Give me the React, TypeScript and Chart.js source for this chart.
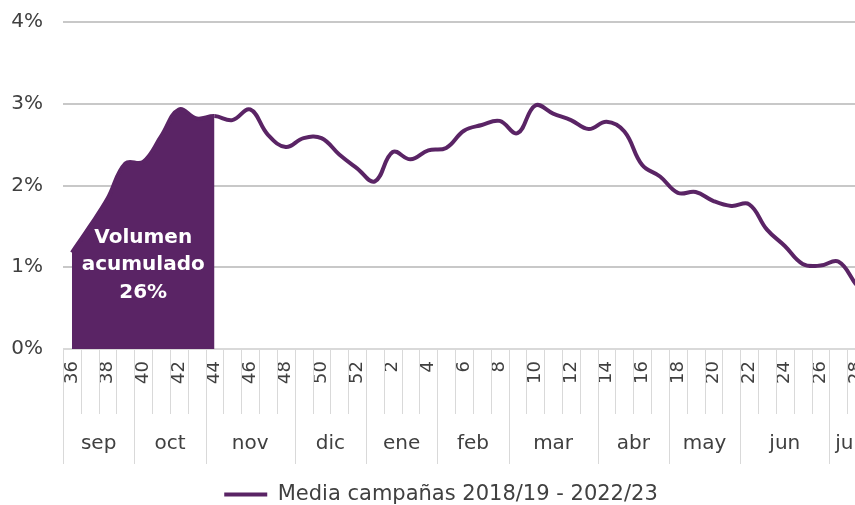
import { useEffect, useRef } from "react";
import { Chart, registerables } from "chart.js";

Chart.register(...registerables);

// ---- data ----
const weeks = [
  "36", "37", "38", "39", "40", "41", "42", "43", "44", "45", "46", "47", "48", "49", "50", "51", "52",
  "1", "2", "3", "4", "5", "6", "7", "8", "9", "10", "11", "12", "13", "14", "15", "16", "17", "18", "19",
  "20", "21", "22", "23", "24", "25", "26", "27", "28",
];
const values = [
  1.18, 1.5, 1.84, 2.27, 2.29, 2.6, 2.93, 2.82, 2.85, 2.8, 2.93, 2.62, 2.47, 2.58, 2.58, 2.38, 2.21,
  2.05, 2.41, 2.32, 2.43, 2.46, 2.67, 2.74, 2.79, 2.64, 2.98, 2.88, 2.8, 2.69, 2.78, 2.66, 2.25, 2.11,
  1.91, 1.92, 1.81, 1.75, 1.77, 1.46, 1.26, 1.04, 1.02, 1.07, 0.79,
];
const months = ["sep", "oct", "nov", "dic", "ene", "feb", "mar", "abr", "may", "jun", "jul"];
const monthWeekCounts = [4, 4, 5, 4, 4, 4, 5, 4, 4, 5, 2];
const yTickValues = [0, 1, 2, 3, 4];
const seriesLabel = "Media campañas 2018/19 - 2022/23";
const accumulatedLastWeek = "44";
const annotationLines = ["Volumen", "acumulado", "26%"];

// ---- styles ----
const PURPLE = "#5a2465";
const FONT = "'DejaVu Sans', sans-serif";
const TEXT = "#404040";

export default function App() {
  const ref = useRef<HTMLCanvasElement | null>(null);

  useEffect(() => {
    const canvas = ref.current;
    if (!canvas) return;
    const lastFillIndex = weeks.indexOf(accumulatedLastWeek);

    const axisPlugin = {
      id: "twoLevelAxis",
      afterDraw(chart: any) {
        const { ctx, chartArea, scales } = chart;
        const x = scales.x;
        const step = x.getPixelForValue(1) - x.getPixelForValue(0);
        const b0 = x.getPixelForValue(0) - step / 2;
        const bottom = chartArea.bottom;
        ctx.save();
        ctx.strokeStyle = "#d9d9d9";
        ctx.lineWidth = 1;
        for (let i = 0; i <= weeks.length; i++) {
          const px = Math.round(b0 + i * step) + 0.5;
          ctx.beginPath();
          ctx.moveTo(px, bottom);
          ctx.lineTo(px, bottom + 65);
          ctx.stroke();
        }
        let acc = 0;
        const bounds = [0];
        monthWeekCounts.forEach((c) => {
          acc += c;
          bounds.push(acc);
        });
        bounds.forEach((bi) => {
          const px = Math.round(b0 + bi * step) + 0.5;
          ctx.beginPath();
          ctx.moveTo(px, bottom);
          ctx.lineTo(px, bottom + 115);
          ctx.stroke();
        });
        ctx.fillStyle = TEXT;
        ctx.font = `20px ${FONT}`;
        ctx.textAlign = "center";
        ctx.textBaseline = "middle";
        months.forEach((m, i) => {
          const cx = b0 + ((bounds[i] + bounds[i + 1]) / 2) * step;
          ctx.fillText(m, cx, bottom + 95);
        });
        ctx.restore();
      },
    };

    const annotationPlugin = {
      id: "volumeNote",
      afterDatasetsDraw(chart: any) {
        const { ctx, scales } = chart;
        const x = scales.x;
        const y = scales.y;
        const cx = (x.getPixelForValue(0) + x.getPixelForValue(lastFillIndex)) / 2;
        const cy = y.getPixelForValue(1) - 2;
        ctx.save();
        ctx.fillStyle = "#ffffff";
        ctx.font = `bold 20px ${FONT}`;
        ctx.textAlign = "center";
        ctx.textBaseline = "middle";
        annotationLines.forEach((t, i) => ctx.fillText(t, cx, cy + (i - 1) * 27.5));
        ctx.restore();
      },
    };

    const chart = new Chart(canvas, {
      type: "line",
      data: {
        labels: weeks,
        datasets: [
          {
            label: seriesLabel,
            data: values,
            borderColor: PURPLE,
            backgroundColor: PURPLE,
            borderWidth: 4,
            pointRadius: 0,
            pointHoverRadius: 0,
            tension: 0.4,
            fill: "origin",
            segment: {
              backgroundColor: (c: any) => (c.p1DataIndex <= lastFillIndex ? PURPLE : "rgba(0,0,0,0)"),
            },
          } as any,
        ],
      },
      options: {
        responsive: false,
        animation: false,
        layout: { padding: { top: 22, right: 0, left: 0, bottom: 0 } },
        scales: {
          x: {
            offset: true,
            grid: { display: false, drawTicks: false },
            border: { display: false },
            ticks: {
              autoSkip: false,
              minRotation: 90,
              maxRotation: 90,
              padding: 12,
              color: TEXT,
              font: { family: FONT, size: 18 },
              callback: (_v: any, i: number) => (Number(weeks[i]) % 2 === 0 ? weeks[i] : ""),
            },
            afterFit: (s: any) => {
              s.height = 125;
              s.paddingLeft = 0;
              s.paddingRight = 17;
            },
          },
          y: {
            min: yTickValues[0],
            max: yTickValues[yTickValues.length - 1],
            ticks: {
              stepSize: 1,
              padding: 20,
              color: TEXT,
              font: { family: FONT, size: 20 },
              callback: (v: any) => `${v}%`,
            },
            grid: {
              color: (c: any) => (c.tick && c.tick.value === 0 ? "#d9d9d9" : "#c8c8c8"),
              lineWidth: 2,
              drawTicks: false,
            },
            border: { display: false },
            afterFit: (s: any) => {
              s.width = 63;
              s.paddingTop = 0;
              s.paddingBottom = 0;
            },
          },
        },
        plugins: {
          legend: {
            position: "bottom",
            labels: {
              boxWidth: 43,
              boxHeight: 4,
              color: TEXT,
              font: { family: FONT, size: 21 },
              generateLabels: (ch: any) =>
                (Chart.defaults.plugins.legend.labels as any)
                  .generateLabels(ch)
                  .map((l: any) => ({ ...l, lineWidth: 0, fillStyle: PURPLE })),
            },
          },
          tooltip: { enabled: false },
        },
      },
      plugins: [axisPlugin, annotationPlugin],
    });

    return () => chart.destroy();
  }, []);

  return (
    <div
      style={{
        position: "fixed",
        left: 0,
        top: 0,
        width: 855,
        height: 505,
        overflow: "hidden",
        background: "#ffffff",
      }}
    >
      <canvas ref={ref} width={882} height={515} style={{ display: "block", width: 882, height: 515 }} />
    </div>
  );
}
